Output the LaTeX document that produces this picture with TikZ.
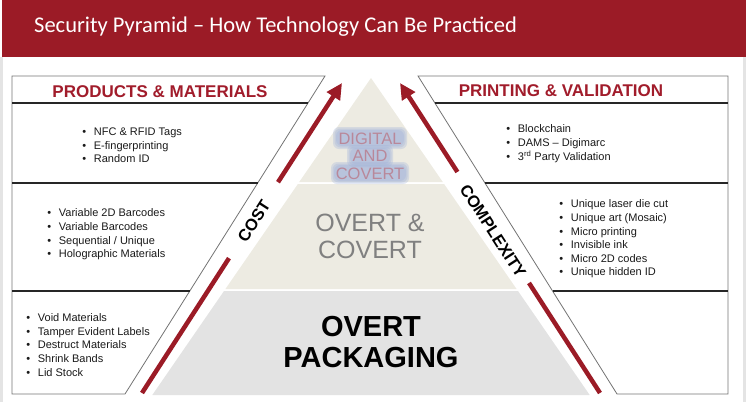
\documentclass[tikz,border=0pt]{standalone}
\usepackage{fontspec}
\setmainfont{Liberation Sans}
\newfontfamily\titlefont{Carlito}
\usetikzlibrary{arrows.meta,calc}
\definecolor{brandred}{HTML}{9B1B26}
\definecolor{headred}{HTML}{A11C2B}
\definecolor{beige}{HTML}{EDEBE2}
\definecolor{lightgray}{HTML}{E3E3E3}
\definecolor{glowblue}{HTML}{9FB1DA}
\definecolor{mauve}{HTML}{B8889A}
\definecolor{framegray}{HTML}{E4E4E4}
\tikzset{
  panelline/.style={draw=black!55, line width=0.8pt},
  divline/.style={draw=black!85, line width=1.3pt},
  headtext/.style={font=\bfseries\fontsize{17}{19}\selectfont, text=headred, inner sep=0},
  itemtext/.style={anchor=base west, inner sep=0, font=\fontsize{11}{13}\selectfont, text=black!90},
  arrowline/.style={draw=brandred, line width=4.5pt},
  redtip/.style={-{Triangle[length=16pt,width=15pt]}},
  sidetext/.style={font=\bfseries\fontsize{16.5}{18}\selectfont, inner sep=0},
  digtext/.style={align=center, inner sep=0, font=\fontsize{16.5}{17.5}\selectfont},
  glowfill/.style={fill=glowblue, fill opacity=0.3, rounded corners=6pt},
}
\newcommand\bulletlist[4]{%
  \foreach \t [count=\i] in {#4}
    \node[itemtext] (#1-\i) at (#2,{#3+13.6*(\i-1)}) {\makebox[11.5pt][l]{\textbullet}\t};}
\begin{document}
\begin{tikzpicture}[x=1pt,y=-1pt]
\useasboundingbox (0,0) rectangle (746,402);
% slide frame
\fill[framegray] (0,57) rectangle (3,402);
\fill[framegray] (743,57) rectangle (746,402);
% title band
\fill[brandred] (2,0) rectangle (746,57);
\node[anchor=west, inner sep=0, text=white, font=\titlefont\fontsize{22.5}{26}\selectfont] (title) at (34,27) {Security Pyramid – How Technology Can Be Practiced};

% left panel
\draw[panelline] (12,76) -- (325,76) -- (125,394) -- (12,394) -- cycle;
\draw[divline] (12,103) -- (308.1,103);
\draw[divline] (12,183) -- (257.7,183);
\draw[divline] (12,291) -- (190,291);
\node[headtext] (lhead) at (160,91.7) {PRODUCTS \& MATERIALS};

% right panel
\draw[panelline] (418,76) -- (728,76) -- (728,394) -- (617,394) -- cycle;
\draw[divline] (434.9,103) -- (728,103);
\draw[divline] (485,183) -- (728,183);
\draw[divline] (552.6,291) -- (728,291);
\node[headtext] (rhead) at (561,90.7) {PRINTING \& VALIDATION};

% bullet lists
\bulletlist{lt}{82.2}{135.6}{NFC \& RFID Tags, E-fingerprinting, Random ID}
\bulletlist{lm}{47.2}{216.9}{Variable 2D Barcodes, Variable Barcodes, Sequential / Unique, Holographic Materials}
\bulletlist{lb}{26.2}{321.6}{Void Materials, Tamper Evident Labels, Destruct Materials, Shrink Bands, Lid Stock}
\bulletlist{rt}{506.2}{132.9}{Blockchain, DAMS – Digimarc, 3\textsuperscript{rd} Party Validation}
\bulletlist{rm}{559.2}{207.9}{Unique laser die cut, Unique art (Mosaic), Micro printing, Invisible ink, Micro 2D codes, Unique hidden ID}

% pyramid
\fill[beige] (371,78) -- (299.2,182) -- (442.8,182) -- cycle;
\fill[beige] (297.9,184) -- (444.1,184) -- (516.6,289) -- (225.4,289) -- cycle;
\fill[lightgray] (224,291) -- (518,291) -- (589.7,395) -- (152.3,395) -- cycle;

% digital and covert with soft glow
\foreach \g in {0,1.5,3}{
  \fill[glowfill] ({336-\g},{130-\g}) rectangle ({404+\g},{146+\g});
  \fill[glowfill] ({350-\g},{148-\g}) rectangle ({390+\g},{164+\g});
  \fill[glowfill] ({334-\g},{165-\g}) rectangle ({406+\g},{181+\g});
}
\node[digtext, text=mauve] (digital) at (370,156) {DIGITAL\\AND\\COVERT};

\node[align=center, inner sep=0, text=black!50, font=\fontsize{25}{27}\selectfont] (oc) at (370,236.5) {OVERT \&\\COVERT};
\node[align=center, inner sep=0, text=black, font=\bfseries\fontsize{29}{31}\selectfont] (op) at (371,342.5) {OVERT\\PACKAGING};

% arrows
\coordinate (la1) at (142,393);
\coordinate (la2) at (342,83);
\coordinate (lg1) at ($(la1)!0.435!(la2)$);
\coordinate (lg2) at ($(la1)!0.68!(la2)$);
\draw[arrowline] (la1) -- (lg1);
\draw[arrowline, redtip] (lg2) -- (la2);
\node[sidetext, rotate=57.2] (cost) at (254,221) {COST};

\coordinate (ra1) at (600,393);
\coordinate (ra2) at (400,83);
\coordinate (rg1) at ($(ra1)!0.355!(ra2)$);
\coordinate (rg2) at ($(ra1)!0.713!(ra2)$);
\draw[arrowline] (ra1) -- (rg1);
\draw[arrowline, redtip] (rg2) -- (ra2);
\node[sidetext, rotate=-57.2] (complexity) at (493,231) {COMPLEXITY};
\end{tikzpicture}
\end{document}
